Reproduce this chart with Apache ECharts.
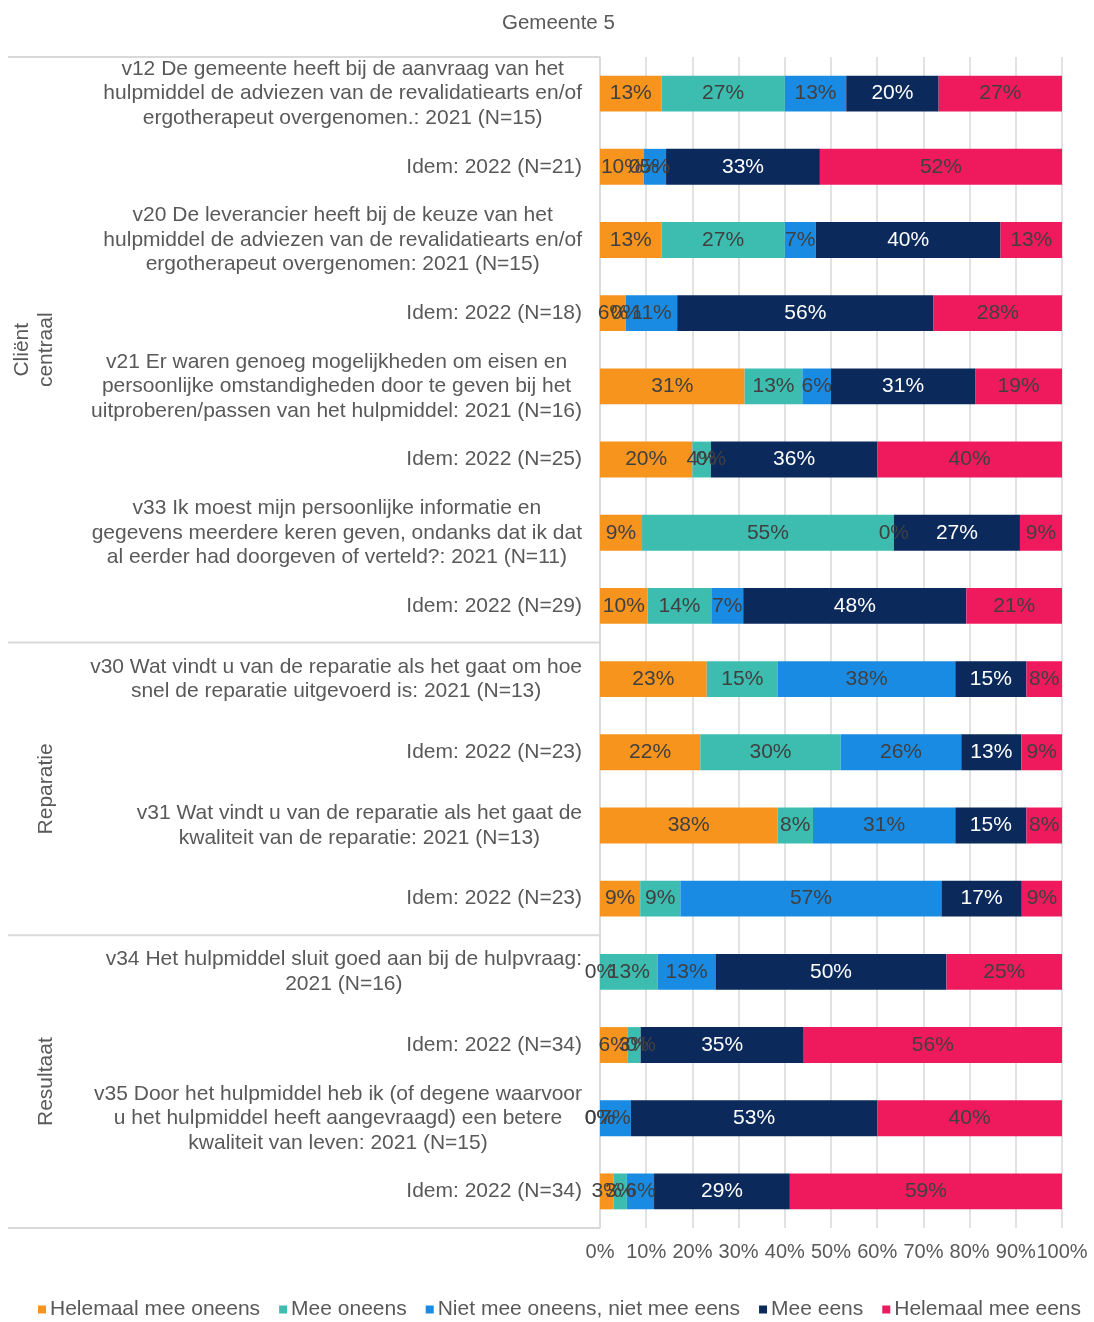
<!DOCTYPE html>
<html>
<head>
<meta charset="utf-8">
<script src="https://cdn.jsdelivr.net/npm/echarts@6/dist/echarts.min.js"></script>
<style>
html,body{margin:0;padding:0;background:#fff;}
#chart{width:1094px;height:1322px;}
</style>
</head>
<body>
<div id="chart"></div>
<script>
const categories = [
  "v12 De gemeente heeft bij de aanvraag van het\nhulpmiddel de adviezen van de revalidatiearts en/of\nergotherapeut overgenomen.: 2021 (N=15)",
  "Idem: 2022 (N=21)",
  "v20 De leverancier heeft bij de keuze van het\nhulpmiddel de adviezen van de revalidatiearts en/of\nergotherapeut overgenomen: 2021 (N=15)",
  "Idem: 2022 (N=18)",
  "v21 Er waren genoeg mogelijkheden om eisen en\npersoonlijke omstandigheden door te geven bij het\nuitproberen/passen van het hulpmiddel: 2021 (N=16)",
  "Idem: 2022 (N=25)",
  "v33 Ik moest mijn persoonlijke informatie en\ngegevens meerdere keren geven, ondanks dat ik dat\nal eerder had doorgeven of verteld?: 2021 (N=11)",
  "Idem: 2022 (N=29)",
  "v30 Wat vindt u van de reparatie als het gaat om hoe\nsnel de reparatie uitgevoerd is: 2021 (N=13)",
  "Idem: 2022 (N=23)",
  "v31 Wat vindt u van de reparatie als het gaat de\nkwaliteit van de reparatie: 2021 (N=13)",
  "Idem: 2022 (N=23)",
  "v34 Het hulpmiddel sluit goed aan bij de hulpvraag:\n2021 (N=16)",
  "Idem: 2022 (N=34)",
  "v35 Door het hulpmiddel heb ik (of degene waarvoor\nu het hulpmiddel heeft aangevraagd) een betere\nkwaliteit van leven: 2021 (N=15)",
  "Idem: 2022 (N=34)"
];

const groupNames = ["Cliënt\ncentraal", "Reparatie", "Resultaat"];
const groupSizes = [8, 4, 4];

const seriesNames = [
  "Helemaal mee oneens",
  "Mee oneens",
  "Niet mee oneens, niet mee eens",
  "Mee eens",
  "Helemaal mee eens"
];

const helemaalOneens = [13.3, 9.5, 13.3, 5.6, 31.3, 20, 9.1, 10.3, 23.1, 21.7, 38.4, 8.7, 0, 5.9, 0, 2.9];
const meeOneens      = [26.7, 0, 26.7, 0, 12.5, 4, 54.5, 13.8, 15.4, 30.4, 7.7, 8.7, 12.5, 2.9, 0, 2.9];
const neutraal       = [13.3, 4.8, 6.7, 11.1, 6.2, 0, 0, 6.9, 38.4, 26.1, 30.8, 56.5, 12.5, 0, 6.7, 5.9];
const meeEens        = [20, 33.3, 40, 55.5, 31.2, 36, 27.3, 48.3, 15.4, 13.0, 15.4, 17.4, 50, 35.3, 53.3, 29.4];
const helemaalEens   = [26.7, 52.4, 13.3, 27.8, 18.8, 40, 9.1, 20.7, 7.7, 8.8, 7.7, 8.7, 25, 55.9, 40, 58.9];

const xTicks = [0, 10, 20, 30, 40, 50, 60, 70, 80, 90, 100];

const seriesData = [helemaalOneens, meeOneens, neutraal, meeEens, helemaalEens];
const colors = ['#F7941D', '#3DBDAF', '#1A8BE2', '#0B2A5B', '#EF1A5E'];
const labelColors = ['#404040', '#404040', '#404040', '#ffffff', '#404040'];

const FONT = '"Liberation Sans", Arial, sans-serif';
const TXT = '#595959';

const chart = echarts.init(document.getElementById('chart'), null, {renderer: 'canvas'});

const option = {
  animation: false,
  backgroundColor: '#ffffff',
  color: colors,
  title: {
    text: 'Gemeente 5',
    left: 497,
    top: 8,
    textStyle: {fontFamily: FONT, fontSize: 20.5, fontWeight: 'normal', color: TXT}
  },
  legend: {
    top: 1294,
    left: 33,
    icon: 'rect',
    itemWidth: 8,
    itemHeight: 8,
    itemGap: 19,
    data: seriesNames,
    textStyle: {fontFamily: FONT, fontSize: 21, color: TXT, padding: [0, 0, 0, -1]}
  },
  grid: {left: 600, right: 32, top: 57, bottom: 94, containLabel: false},
  xAxis: {
    type: 'value',
    min: xTicks[0],
    max: xTicks[xTicks.length - 1],
    interval: 10,
    axisLine: {show: false},
    axisTick: {show: false},
    splitLine: {show: true, lineStyle: {color: '#d9d9d9', width: 1.5}},
    axisLabel: {
      margin: 14,
      fontFamily: FONT, fontSize: 20, color: TXT,
      formatter: v => v + '%'
    }
  },
  yAxis: {
    type: 'category',
    inverse: true,
    data: categories,
    axisLine: {show: true, lineStyle: {color: '#d9d9d9', width: 1.5}},
    axisTick: {show: false},
    axisLabel: {
      margin: 18,
      fontFamily: FONT, fontSize: 21, color: TXT,
      lineHeight: 24.5,
      formatter: v => v.split('\n').map(l => '{c|' + l + '}').join('\n'),
      rich: {c: {align: 'center', fontFamily: FONT, fontSize: 21, color: TXT, lineHeight: 24.5}}
    }
  },
  series: seriesData.map((d, i) => ({
    name: seriesNames[i],
    type: 'bar',
    stack: 'total',
    barWidth: '49%',
    data: d,
    itemStyle: {color: colors[i]},
    label: {
      show: true,
      position: 'inside',
      fontFamily: FONT,
      fontSize: 21,
      color: labelColors[i],
      formatter: p => Math.round(p.value) + '%'
    }
  }))
};

chart.setOption(option);

// group separators and rotated group labels, positioned from the category scale
function buildGroups() {
  const y0 = chart.convertToPixel({yAxisIndex: 0}, 0);
  const y1 = chart.convertToPixel({yAxisIndex: 0}, 1);
  const band = Math.abs(y1 - y0);
  const gridLeft = chart.convertToPixel({xAxisIndex: 0}, 0);
  const elems = [];
  let start = 0;
  const edges = [];
  groupSizes.forEach((n, gi) => {
    const topY = chart.convertToPixel({yAxisIndex: 0}, start) - band / 2;
    const botY = chart.convertToPixel({yAxisIndex: 0}, start + n - 1) + band / 2;
    if (gi === 0) edges.push(topY);
    edges.push(botY);
    elems.push({
      type: 'text',
      x: 58,
      y: (topY + botY) / 2,
      rotation: Math.PI / 2,
      style: {
        text: groupNames[gi],
        fontFamily: FONT, fontSize: 21, fill: TXT,
        align: 'center', verticalAlign: 'bottom', lineHeight: 24
      }
    });
    start += n;
  });
  edges.forEach(e => {
    elems.push({
      type: 'line',
      shape: {x1: 8, y1: e, x2: gridLeft, y2: e},
      style: {stroke: '#d9d9d9', lineWidth: 2}
    });
  });
  chart.setOption({graphic: elems});
}
buildGroups();
</script>
</body>
</html>
